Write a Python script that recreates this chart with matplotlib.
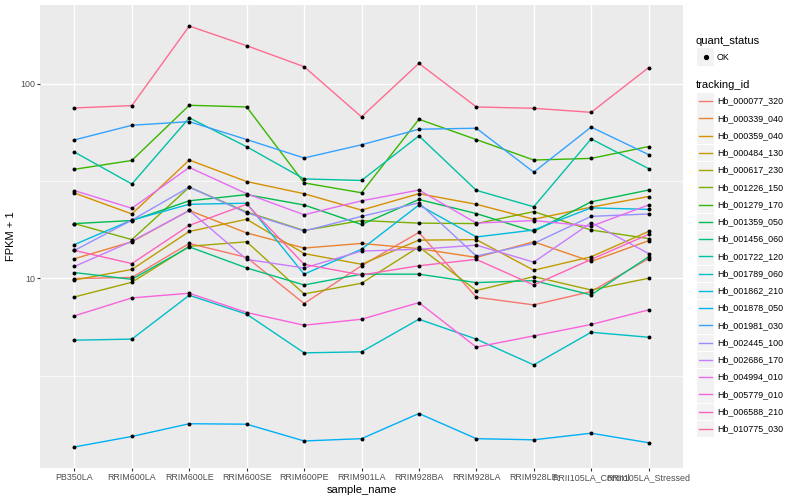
import numpy as np
import matplotlib
matplotlib.use("Agg")
import matplotlib.pyplot as plt
from matplotlib.patches import Rectangle
from matplotlib.lines import Line2D

plt.rcParams["font.family"] = ["Liberation Sans", "DejaVu Sans"]

samples = ["PB350LA", "RRIM600LA", "RRIM600LE", "RRIM600SE", "RRIM600PE", "RRIM901LA",
           "RRIM928BA", "RRIM928LA", "RRIM928LE", "RRII105LA_Control", "RRII105LA_Stressed"]

tracking_ids = ["Hb_000077_320", "Hb_000339_040", "Hb_000359_040", "Hb_000484_130",
                "Hb_000617_230", "Hb_001226_150", "Hb_001279_170", "Hb_001359_050",
                "Hb_001456_060", "Hb_001722_120", "Hb_001789_060", "Hb_001862_210",
                "Hb_001878_050", "Hb_001981_030", "Hb_002445_100", "Hb_002686_170",
                "Hb_004994_010", "Hb_005779_010", "Hb_006588_210", "Hb_010775_030"]

# FPKM + 1, one list per tracking_id, in sample order
hb_000077_320 = [9.97, 10.1, 15.1, 12.8, 7.42, 11.6, 17.2, 7.99, 7.30, 8.55, 12.6]
hb_000339_040 = [12.6, 15.4, 22.3, 17.1, 14.3, 15.1, 14.2, 12.8, 15.4, 12.2, 15.6]
hb_000359_040 = [27.4, 21.4, 40.5, 31.4, 27.2, 22.4, 27.2, 24.0, 20.1, 23.2, 26.3]
hb_000484_130 = [9.80, 11.1, 17.4, 20.1, 13.4, 11.8, 15.7, 15.8, 11.0, 12.9, 17.4]
hb_000617_230 = [8.02, 9.54, 14.6, 15.4, 8.31, 9.43, 14.5, 8.65, 10.2, 8.71, 10.0]
hb_001226_150 = [19.1, 15.8, 29.4, 21.9, 17.6, 19.8, 19.2, 19.1, 22.0, 17.7, 16.0]
hb_001279_170 = [36.3, 40.3, 77.4, 75.9, 30.9, 27.5, 65.6, 51.6, 40.5, 41.3, 47.5]
hb_001359_050 = [19.1, 19.8, 25.0, 26.9, 23.8, 18.9, 25.4, 21.5, 17.4, 24.7, 28.4]
hb_001456_060 = [10.7, 9.88, 14.5, 11.3, 9.24, 10.5, 10.5, 9.50, 9.73, 8.21, 12.9]
hb_001722_120 = [44.5, 30.5, 66.7, 47.4, 32.4, 31.8, 53.9, 28.3, 23.3, 52.0, 36.6]
hb_001789_060 = [4.81, 4.87, 8.18, 6.54, 4.14, 4.19, 6.16, 4.87, 3.59, 5.28, 4.98]
hb_001862_210 = [14.9, 19.9, 24.0, 24.3, 10.5, 14.1, 23.8, 16.3, 17.7, 23.0, 22.6]
hb_001878_050 = [1.36, 1.54, 1.79, 1.78, 1.46, 1.50, 2.02, 1.50, 1.48, 1.60, 1.43]
hb_001981_030 = [51.4, 61.1, 63.8, 51.6, 41.5, 48.5, 58.3, 59.0, 35.1, 59.8, 43.2]
hb_002445_100 = [13.9, 19.9, 29.4, 21.7, 17.5, 20.8, 24.4, 13.0, 15.1, 20.8, 21.4]
hb_002686_170 = [11.5, 15.5, 22.3, 12.5, 11.3, 13.8, 14.1, 14.8, 12.1, 19.3, 13.4]
hb_004994_010 = [28.2, 22.9, 37.1, 27.2, 21.2, 25.0, 28.4, 19.2, 19.8, 18.5, 23.8]
hb_005779_010 = [6.41, 7.93, 8.38, 6.67, 5.74, 6.16, 7.50, 4.43, 5.06, 5.79, 6.88]
hb_006588_210 = [13.9, 11.9, 18.7, 24.0, 11.8, 10.4, 11.6, 12.5, 9.24, 12.5, 16.8]
hb_010775_030 = [75.0, 77.1, 197.6, 156.6, 122.2, 67.5, 127.1, 75.9, 74.7, 71.2, 120.8]

series = [hb_000077_320, hb_000339_040, hb_000359_040, hb_000484_130, hb_000617_230,
          hb_001226_150, hb_001279_170, hb_001359_050, hb_001456_060, hb_001722_120,
          hb_001789_060, hb_001862_210, hb_001878_050, hb_001981_030, hb_002445_100,
          hb_002686_170, hb_004994_010, hb_005779_010, hb_006588_210, hb_010775_030]

# ggplot2 default hue palette for 20 levels
colors = ["#F8766D", "#EA8331", "#D89000", "#C09B00", "#A3A500", "#7CAE00", "#39B600",
          "#00BB4E", "#00BF7D", "#00C1A3", "#00BFC4", "#00BAE0", "#00B0F6", "#35A2FF",
          "#9590FF", "#C77CFF", "#E76BF3", "#FA62DB", "#FF62BC", "#FF6C91"]

W, H = 800, 500
fig = plt.figure(figsize=(W / 100, H / 100), dpi=100)
fig.patch.set_facecolor("white")
ax = fig.add_axes([40 / W, 32 / H, 643 / W, 463 / H])
ax.set_facecolor("#EBEBEB")

x = np.arange(len(samples))
for vals, col in zip(series, colors):
    ax.plot(x, vals, color=col, lw=1.0, zorder=3, solid_capstyle="butt")
for vals in series:
    ax.scatter(x, vals, s=8, color="black", zorder=4, linewidths=0)

ax.set_yscale("log")
allv = np.log10(np.concatenate([np.array(s) for s in series]))
lo, hi = allv.min(), allv.max()
pad = 0.05 * (hi - lo)
ax.set_ylim(10 ** (lo - pad), 10 ** (hi + pad))
ax.set_xlim(-0.6, len(samples) - 0.4)

# grid
for v in [10 ** 0.5, 10 ** 1.5]:
    ax.axhline(v, color="white", lw=0.5, zorder=1)
for v in [10, 100]:
    ax.axhline(v, color="white", lw=1.0, zorder=1)
for xi in x:
    ax.axvline(xi, color="white", lw=1.0, zorder=1)

ax.set_yticks([10, 100])
ax.set_yticklabels(["10", "100"])
ax.yaxis.set_minor_locator(matplotlib.ticker.NullLocator())
ax.set_xticks(x)
ax.set_xticklabels(samples)
ax.tick_params(axis="both", length=2, width=0.8, color="#333333",
               labelsize=6.4, labelcolor="#4D4D4D", pad=1.5)
for s in ax.spines.values():
    s.set_visible(False)
ax.set_xlabel("sample_name", fontsize=8, labelpad=2)
ax.set_ylabel("FPKM + 1", fontsize=8, labelpad=3)


def fx(px):
    return px / W


def fy(py):
    return 1 - py / H


# legend: quant_status
fig.text(fx(696), fy(41), "quant_status", fontsize=8, va="center", ha="left")
fig.add_artist(Rectangle((fx(697), fy(65.5)), 17 / W, 17 / H, transform=fig.transFigure,
                         facecolor="#F2F2F2", edgecolor="none"))
fig.add_artist(Line2D([fx(705.5)], [fy(57)], marker="o", ms=2.8, color="black",
                      transform=fig.transFigure))
fig.text(fx(717), fy(57), "OK", fontsize=6.4, va="center", ha="left")

# legend: tracking_id
fig.text(fx(696), fy(85), "tracking_id", fontsize=8, va="center", ha="left")
step = 17.26
for i, (name, col) in enumerate(zip(tracking_ids, colors)):
    cy = 101 + i * step
    fig.add_artist(Rectangle((fx(697), fy(cy + 8.5)), 17 / W, 16.6 / H,
                             transform=fig.transFigure, facecolor="#F2F2F2", edgecolor="none"))
    fig.add_artist(Line2D([fx(699), fx(712)], [fy(cy), fy(cy)], color=col, lw=1.0,
                          transform=fig.transFigure))
    fig.text(fx(717), fy(cy), name, fontsize=6.4, va="center", ha="left")

fig.savefig("out.png", dpi=100)
